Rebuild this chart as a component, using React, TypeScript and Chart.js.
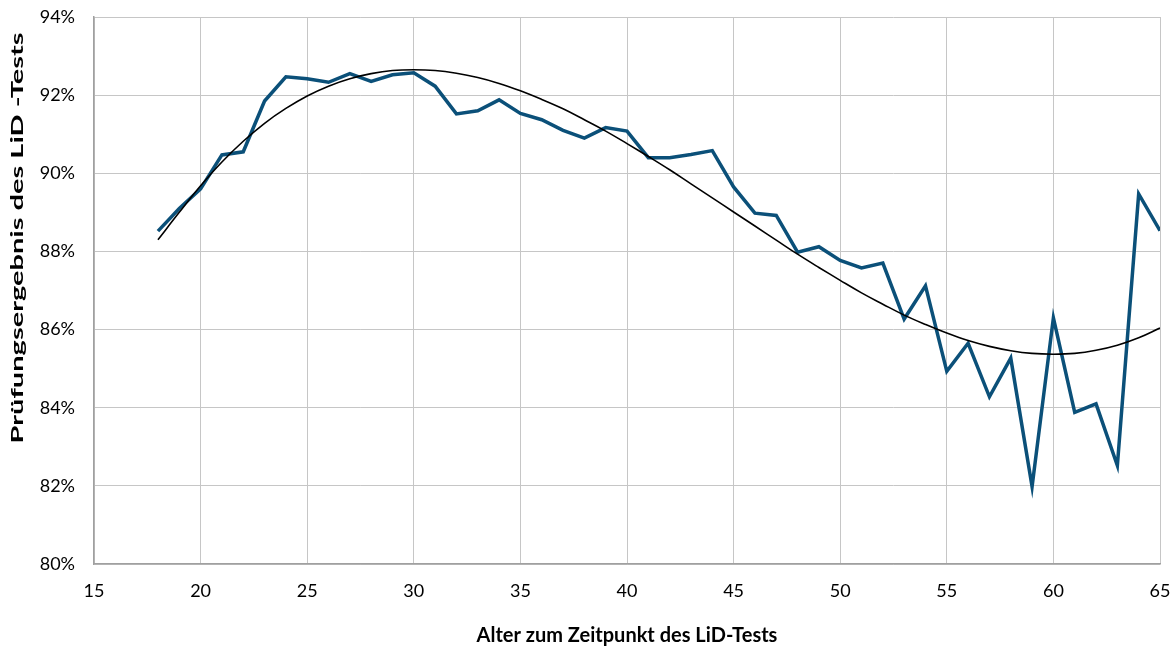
import React, { useEffect, useRef } from "react";
import { Chart, registerables } from "chart.js";

Chart.register(...registerables);

const ages: number[] = [
  18, 19, 20, 21, 22, 23, 24, 25, 26, 27, 28, 29, 30, 31, 32, 33, 34, 35, 36, 37, 38, 39, 40, 41,
  42, 43, 44, 45, 46, 47, 48, 49, 50, 51, 52, 53, 54, 55, 56, 57, 58, 59, 60, 61, 62, 63, 64, 65,
];

const scores: number[] = [
  88.52, 89.1, 89.6, 90.47, 90.55, 91.85, 92.47, 92.42, 92.33, 92.55, 92.35, 92.52, 92.57, 92.23,
  91.52, 91.6, 91.88, 91.53, 91.37, 91.1, 90.9, 91.17, 91.08, 90.4, 90.4, 90.48, 90.58, 89.65,
  88.98, 88.92, 87.98, 88.12, 87.77, 87.58, 87.7, 86.27, 87.12, 84.93, 85.65, 84.28, 85.27, 81.98,
  86.3, 83.88, 84.1, 82.52, 89.47, 88.53,
];

const trend: number[] = [
  88.3, 89.0, 89.68, 90.29, 90.82, 91.28, 91.66, 91.98, 92.23, 92.42, 92.55, 92.63, 92.65, 92.63,
  92.56, 92.45, 92.3, 92.11, 91.89, 91.65, 91.37, 91.08, 90.76, 90.43, 90.09, 89.73, 89.37, 89.01,
  88.65, 88.29, 87.93, 87.59, 87.26, 86.94, 86.65, 86.37, 86.13, 85.91, 85.72, 85.57, 85.46, 85.39,
  85.37, 85.39, 85.47, 85.6, 85.79, 86.04,
];

const xTitle = "Alter zum Zeitpunkt des LiD-Tests";
const yTitle = "Prüfungsergebnis des LiD -Tests";

const FONT = "Lato";

const yTitlePlugin = {
  id: "yTitleStretched",
  afterDraw(chart: any) {
    const ctx = chart.ctx as CanvasRenderingContext2D;
    ctx.save();
    ctx.font = `bold 17px ${FONT}`;
    ctx.fillStyle = "#000000";
    ctx.textAlign = "center";
    ctx.textBaseline = "middle";
    const w = ctx.measureText(yTitle).width;
    ctx.translate(18, 238);
    ctx.rotate(-Math.PI / 2);
    ctx.scale(411 / w, 1);
    ctx.fillText(yTitle, 0, 0);
    ctx.restore();
  },
};

export default function App() {
  const ref = useRef<HTMLCanvasElement | null>(null);

  useEffect(() => {
    document.body.style.margin = "0";
    const canvas = ref.current;
    if (!canvas) return;
    const chart = new Chart(canvas, {
      type: "line",
      data: {
        datasets: [
          {
            label: "Trend",
            data: ages.map((a, i) => ({ x: a, y: trend[i] })),
            borderColor: "#000000",
            borderWidth: 1.6,
            pointRadius: 0,
            tension: 0.4,
            fill: false,
            order: 0,
          },
          {
            label: "Ergebnis",
            data: ages.map((a, i) => ({ x: a, y: scores[i] })),
            borderColor: "#0b5079",
            borderWidth: 3.5,
            pointRadius: 0,
            tension: 0,
            fill: false,
            order: 1,
          },
        ],
      },
      options: {
        animation: false,
        responsive: false,
        maintainAspectRatio: false,
        layout: { padding: { top: 17, right: 13, left: 0, bottom: 0 } },
        plugins: {
          legend: { display: false },
          tooltip: { enabled: false },
        },
        scales: {
          x: {
            type: "linear",
            min: 15,
            max: 65,
            ticks: {
              stepSize: 5,
              color: "#000000",
              font: { family: FONT, size: 18 },
              padding: 16,
            },
            grid: { color: "#c6c6c6", lineWidth: 1, drawTicks: false },
            border: { color: "#a0a0a0", width: 1.5 },
            title: {
              display: true,
              text: xTitle,
              color: "#000000",
              font: { family: FONT, size: 20, weight: "bold" },
              padding: { top: 0, bottom: 2 },
            },
            afterFit: (scale: any) => {
              scale.height = 86;
              scale.paddingLeft = 0;
              scale.paddingRight = 0;
            },
          },
          y: {
            min: 80,
            max: 94,
            ticks: {
              stepSize: 2,
              color: "#000000",
              font: { family: FONT, size: 18 },
              padding: 19,
              callback: (v: any) => `${v}%`,
            },
            grid: { color: "#c6c6c6", lineWidth: 1, drawTicks: false },
            border: { color: "#a0a0a0", width: 1.5 },
            title: { display: false, text: yTitle },
            afterFit: (scale: any) => {
              scale.width = 94;
              scale.paddingTop = 0;
              scale.paddingBottom = 0;
            },
          },
        },
      },
      plugins: [yTitlePlugin],
    });
    return () => chart.destroy();
  }, []);

  return (
    <div style={{ width: 1173, height: 650 }}>
      <canvas ref={ref} width={1173} height={650} style={{ display: "block" }} />
    </div>
  );
}
